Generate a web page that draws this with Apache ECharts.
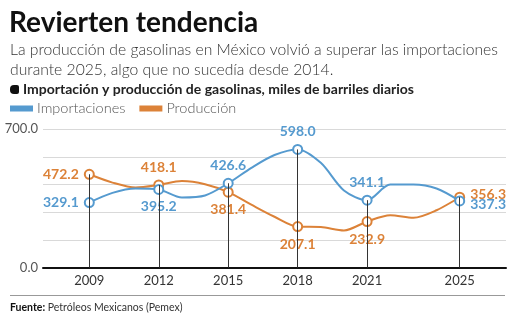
<!DOCTYPE html>
<html><head><meta charset="utf-8">
<script src="https://cdn.jsdelivr.net/npm/echarts@6/dist/echarts.min.js"></script>
<style>html,body{margin:0;padding:0;background:#fff}#c{width:523px;height:324px}</style>
</head><body><div id="c"></div>
<script>
const years = [2009,2010,2011,2012,2013,2014,2015,2016,2017,2018,2019,2020,2021,2022,2023,2024,2025];
const importaciones = [329.1,378,400,395.2,355,365,426.6,505,570,598.0,530,390,341.1,420,420,400,337.3];
const produccion = [472.2,430,405,418.1,438,422,381.4,318,257,207.1,205,188,232.9,265,252,290,356.3];
const labelYears = [2009,2012,2015,2018,2021,2025];
const yTickLabels = [0,700];
const impLabelPos = {2009:'left',2012:'bottom',2015:'top',2018:'top',2021:'top',2025:'right'};
const prodLabelPos = {2009:'left',2012:'top',2015:'bottom',2018:'bottom',2021:'bottom',2025:'right'};

const BLUE = '#559acf', ORANGE = '#dc8238';
const FONT = 'Lato';

function buildData(vals, posMap, dy25){
  return years.map((y,i)=>{
    const show = labelYears.includes(y);
    const item = {value:[y, vals[i]]};
    if(!show){ item.symbol='none'; item.label={show:false}; }
    else {
      item.label={show:true, position:posMap[y], offset: y===2025?[0,dy25]:[0,0]};
    }
    return item;
  });
}
const dropData = labelYears.map(y=>{
  const i = years.indexOf(y);
  return [{coord:[y,0]},{coord:[y,Math.max(importaciones[i],produccion[i])]}];
});

const chart = echarts.init(document.getElementById('c'), null, {renderer:'canvas'});
chart.setOption({
  animation:false,
  textStyle:{fontFamily:FONT},
  grid:{left:43,right:17,top:129.3,bottom:56.5},
  graphic:[
    {type:'text',left:9,top:9,style:{text:'Revierten tendencia',font:'bold 28px Lato',fill:'#111'}},
    {type:'text',left:10,top:42,style:{text:'La producción de gasolinas en México volvió a superar las importaciones',font:'300 15.7px Lato',fill:'#333'}},
    {type:'text',left:10,top:62,style:{text:'durante 2025, algo que no sucedía desde 2014.',font:'300 15.7px Lato',fill:'#333'}},
    {type:'rect',shape:{x:10,y:85,width:9,height:9,r:[4,2,2,4]},style:{fill:'#111'}},
    {type:'text',left:23,top:82,style:{text:'Importación y producción de gasolinas, miles de barriles diarios',font:'bold 14px Lato',fill:'#222'}},
    {type:'line',shape:{x1:10,y1:295.5,x2:505,y2:295.5},style:{stroke:'#999',lineWidth:1}},
    {type:'text',left:10,top:302,style:{text:'{b|Fuente:} Petróleos Mexicanos (Pemex)',font:'10.5px Lato',fill:'#333',rich:{b:{fontWeight:'bold',fontSize:10.5,fontFamily:FONT,fill:'#111'}}}}
  ],
  legend:{left:10,top:101,padding:0,itemWidth:21,itemHeight:4,itemGap:14,icon:'rect',
    textStyle:{fontSize:14.5,color:'#555',fontFamily:FONT,fontWeight:300},
    data:[{name:'Importaciones',itemStyle:{color:BLUE}},{name:'Producción',itemStyle:{color:ORANGE}}]},
  xAxis:{type:'value',min:2007,max:2027,interval:1,
    axisLine:{show:true,onZero:false,lineStyle:{color:'#111',width:2}},
    axisTick:{show:false},splitLine:{show:false},
    axisLabel:{margin:7,fontSize:13,color:'#333',fontFamily:FONT,
      formatter:v=>labelYears.includes(v)?String(v):''}},
  yAxis:{type:'value',min:0,max:700,interval:140,
    axisLine:{show:false},axisTick:{show:false},
    splitLine:{lineStyle:{color:'#d9d9d9',width:1}},
    axisLabel:{margin:5,fontSize:13,color:'#555',fontFamily:FONT,
      formatter:v=>yTickLabels.includes(v)?v.toFixed(1):''}},
  series:[
    {type:'line',name:'drops',data:[],z:1,silent:true,
     markLine:{silent:true,symbol:'none',animation:false,label:{show:false},
       lineStyle:{color:'#333',width:1,type:'solid'},emphasis:{disabled:true},data:dropData}},
    {type:'line',name:'Producción',z:3,smooth:0.3,symbol:'circle',symbolSize:9,
     lineStyle:{color:ORANGE,width:2},itemStyle:{color:'#fff',borderColor:ORANGE,borderWidth:2},
     label:{color:ORANGE,fontWeight:'bold',fontSize:14,fontFamily:FONT,formatter:p=>p.value[1].toFixed(1)},
     data:buildData(produccion,prodLabelPos,-3)},
    {type:'line',name:'Importaciones',z:4,smooth:0.3,symbol:'circle',symbolSize:9,
     lineStyle:{color:BLUE,width:2},itemStyle:{color:'#fff',borderColor:BLUE,borderWidth:2},
     label:{color:BLUE,fontWeight:'bold',fontSize:14,fontFamily:FONT,formatter:p=>p.value[1].toFixed(1)},
     data:buildData(importaciones,impLabelPos,4)}
  ]
});
</script></body></html>
